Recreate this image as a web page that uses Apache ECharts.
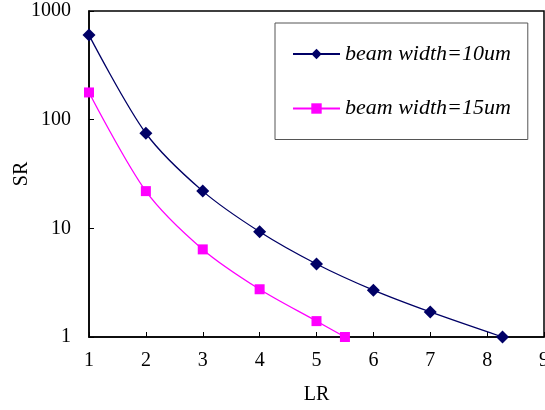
<!DOCTYPE html>
<html>
<head>
<meta charset="utf-8">
<script src="https://cdn.jsdelivr.net/npm/echarts@6/dist/echarts.min.js"></script>
<style>html,body{margin:0;padding:0;background:#fff}#c{width:545px;height:410px}</style>
</head>
<body>
<div id="c"></div>
<script>
const blueX = [1, 2, 3, 4, 5, 6, 7, 8.27];
const blueY = [600, 75, 22, 9.3, 4.7, 2.7, 1.7, 1];
const pinkX = [1, 2, 3, 4, 5, 5.5];
const pinkY = [178, 22, 6.4, 2.75, 1.4, 1];
const seriesNames = ['beam width=10um', 'beam width=15um'];
const xName = 'LR', yName = 'SR';

const pair = (xs, ys) => xs.map((x, i) => [x, ys[i]]);
const font = 'Liberation Serif';
const chart = echarts.init(document.getElementById('c'), null, {renderer: 'canvas'});
chart.setOption({
  animation: false,
  backgroundColor: '#fff',
  textStyle: {fontFamily: font, color: '#000'},
  grid: {left: 89, right: 1, top: 11, bottom: 73, outerBoundsMode: 'none', containLabel: false,
         show: true, borderColor: '#000', borderWidth: 1.5, backgroundColor: 'transparent'},
  xAxis: {
    type: 'value', min: 1, max: 9, interval: 1,
    name: xName, nameLocation: 'middle', nameGap: 48, nameMoveOverlap: false,
    nameTextStyle: {fontFamily: font, fontSize: 20, color: '#000'},
    axisLine: {lineStyle: {color: '#000', width: 1.5}},
    axisTick: {inside: true, length: 5, lineStyle: {color: '#000'}},
    axisLabel: {fontFamily: font, fontSize: 20, color: '#000', margin: 14, formatter: v => String(v)},
    splitLine: {show: false}
  },
  yAxis: {
    type: 'log', logBase: 10, min: 1, max: 1000,
    name: yName, nameLocation: 'middle', nameGap: 57, nameRotate: 90, nameMoveOverlap: false,
    nameTextStyle: {fontFamily: font, fontSize: 20, color: '#000'},
    axisLine: {lineStyle: {color: '#000', width: 1.5}},
    axisTick: {inside: true, length: 5, lineStyle: {color: '#000'}},
    axisLabel: {fontFamily: font, fontSize: 20, color: '#000', margin: 18, formatter: v => String(Math.round(v))},
    splitLine: {show: false}, minorTick: {show: false}
  },
  legend: {
    orient: 'vertical', left: 275, top: 23,
    padding: [20, 17, 20, 17], itemGap: 32.5,
    itemWidth: 47, itemHeight: 13,
    borderColor: '#555', borderWidth: 1, backgroundColor: '#fff',
    textStyle: {fontFamily: font, fontSize: 22, fontStyle: 'italic', color: '#000'},
    data: seriesNames
  },
  series: [
    {name: seriesNames[0], type: 'line', data: pair(blueX, blueY), smooth: 0.3,
     symbol: 'diamond', symbolSize: 13, color: '#000066',
     lineStyle: {color: '#000066', width: 1.3}, itemStyle: {color: '#000066'}},
    {name: seriesNames[1], type: 'line', data: pair(pinkX, pinkY), smooth: 0.3,
     symbol: 'rect', symbolSize: 10, color: '#FF00FF',
     lineStyle: {color: '#FF00FF', width: 1.3}, itemStyle: {color: '#FF00FF'}}
  ]
});
</script>
</body>
</html>
